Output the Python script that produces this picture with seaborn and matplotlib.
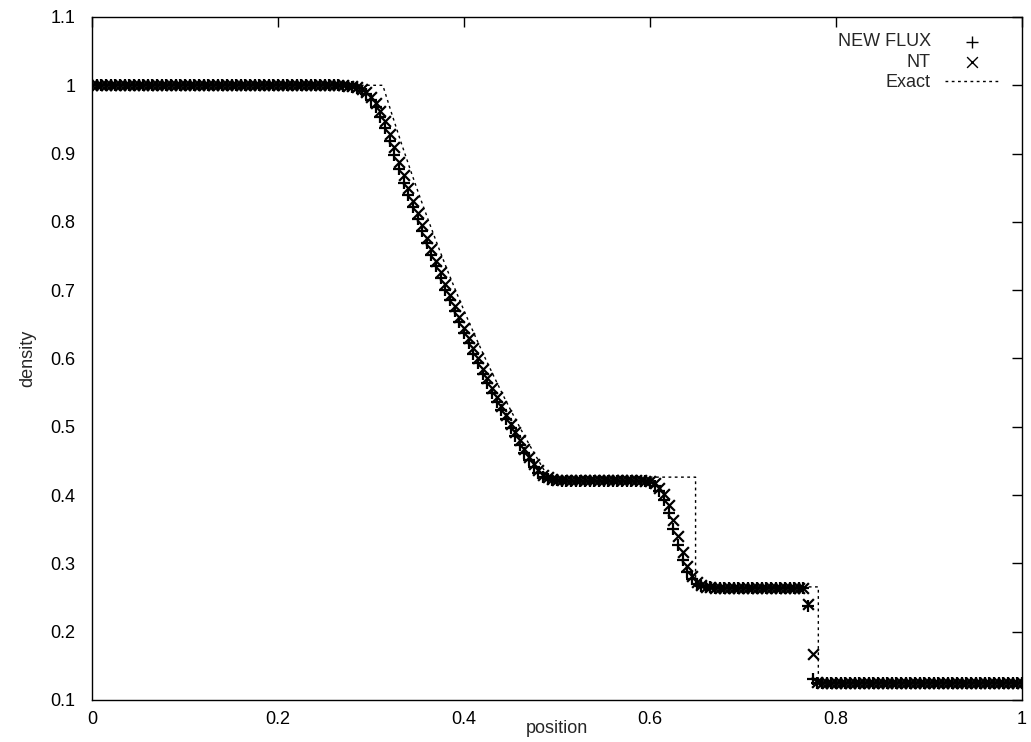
import numpy as np
import seaborn as sns
import matplotlib.pyplot as plt

# cell positions of the two numerical runs (0 .. 1, 201 points)
position = np.linspace(0.0, 1.0, 201)

density_newflux = (
    [1.0] * 54
    + [0.9997, 0.999, 0.998, 0.996, 0.992, 0.987, 0.979, 0.968, 0.954, 0.937,
       0.918, 0.898, 0.877, 0.857, 0.840, 0.822, 0.804, 0.786, 0.769, 0.752,
       0.735, 0.718, 0.701, 0.685, 0.669, 0.653, 0.637, 0.622, 0.607, 0.593,
       0.578, 0.564, 0.550, 0.537, 0.524, 0.511, 0.498, 0.486, 0.474, 0.462,
       0.451, 0.441, 0.433, 0.427, 0.424, 0.4225, 0.4215]
    + [0.421] * 18
    + [0.420, 0.418, 0.414, 0.406, 0.393, 0.374, 0.351, 0.327, 0.305, 0.288,
       0.277, 0.270, 0.267, 0.2655, 0.265]
    + [0.264] * 20
    + [0.238, 0.131]
    + [0.125] * 45
)

density_nt = (
    [1.0] * 54
    + [0.9998, 0.9993, 0.9985, 0.997, 0.994, 0.990, 0.983, 0.974, 0.962, 0.947,
       0.929, 0.909, 0.888, 0.868, 0.849, 0.831, 0.813, 0.795, 0.777, 0.760,
       0.743, 0.726, 0.709, 0.693, 0.677, 0.661, 0.645, 0.630, 0.615, 0.600,
       0.585, 0.571, 0.557, 0.544, 0.530, 0.517, 0.504, 0.492, 0.480, 0.468,
       0.456, 0.446, 0.437, 0.430, 0.426, 0.424, 0.4225]
    + [0.4215] * 18
    + [0.421, 0.420, 0.417, 0.411, 0.401, 0.385, 0.364, 0.340, 0.316, 0.296,
       0.282, 0.273, 0.2685, 0.266, 0.265]
    + [0.2635] * 20
    + [0.240, 0.168, 0.126]
    + [0.125] * 44
)

# exact solution (vertices of the dotted line)
exact_x = [0.0, 0.3127, 0.322, 0.332, 0.342, 0.352, 0.362, 0.372, 0.382, 0.392,
           0.402, 0.412, 0.422, 0.432, 0.442, 0.452, 0.462, 0.472, 0.482,
           0.4905, 0.649, 0.649, 0.781, 0.781, 1.0]
exact_rho = [1.0, 1.0, 0.9597, 0.9177, 0.8775, 0.8386, 0.8011, 0.7647, 0.7296,
             0.6962, 0.6638, 0.6328, 0.6027, 0.5741, 0.5463, 0.5197, 0.4942,
             0.4696, 0.4461, 0.4263, 0.4263, 0.2656, 0.2656, 0.125, 0.125]

sns.set_theme(style="white")
plt.rcParams["font.family"] = ["Liberation Sans", "DejaVu Sans"]

fig = plt.figure(figsize=(10.31, 7.42), dpi=100)
ax = fig.add_axes([92 / 1031, 42 / 742, 930 / 1031, 683 / 742])

sns.scatterplot(x=position, y=density_newflux, marker="+", color="black",
                s=75, linewidth=1.6, ax=ax, label="NEW FLUX", zorder=3)
sns.scatterplot(x=position, y=density_nt, marker="x", color="black",
                s=60, linewidth=1.6, ax=ax, label="NT", zorder=3)
sns.lineplot(x=exact_x, y=exact_rho, sort=False, estimator=None, color="black",
             linewidth=1.0, linestyle=(0, (2, 2.5)), ax=ax, label="Exact")

ax.set_xlim(0, 1)
ax.set_ylim(0.1, 1.1)
ax.set_xticks([0, 0.2, 0.4, 0.6, 0.8, 1])
ax.set_xticklabels(["0", "0.2", "0.4", "0.6", "0.8", "1"])
ax.set_yticks([0.1, 0.2, 0.3, 0.4, 0.5, 0.6, 0.7, 0.8, 0.9, 1.0, 1.1])
ax.set_yticklabels(["0.1", "0.2", "0.3", "0.4", "0.5", "0.6", "0.7", "0.8",
                    "0.9", "1", "1.1"])
ax.tick_params(direction="in", length=7, width=1, colors="black",
               top=True, right=True, labelsize=13)
ax.tick_params(axis="x", pad=8)
ax.tick_params(axis="y", pad=12)
for sp in ax.spines.values():
    sp.set_color("black")
    sp.set_linewidth(1.0)

ax.set_xlabel("position", fontsize=13)
ax.xaxis.set_label_coords(0.5, -0.03)
ax.set_ylabel("density", fontsize=13, labelpad=10)

# markerfirst=False right-aligns the rows, so the labels end flush before the samples
leg = ax.legend(loc="upper right", bbox_to_anchor=(0.993, 1.0), frameon=False,
                markerfirst=False, fontsize=13, handlelength=3.0,
                labelspacing=0.2, borderaxespad=0.5, handletextpad=0.8)
for h in leg.legend_handles[:2]:
    h.set_linewidth(1.0)

plt.savefig("out.png", dpi=100)
